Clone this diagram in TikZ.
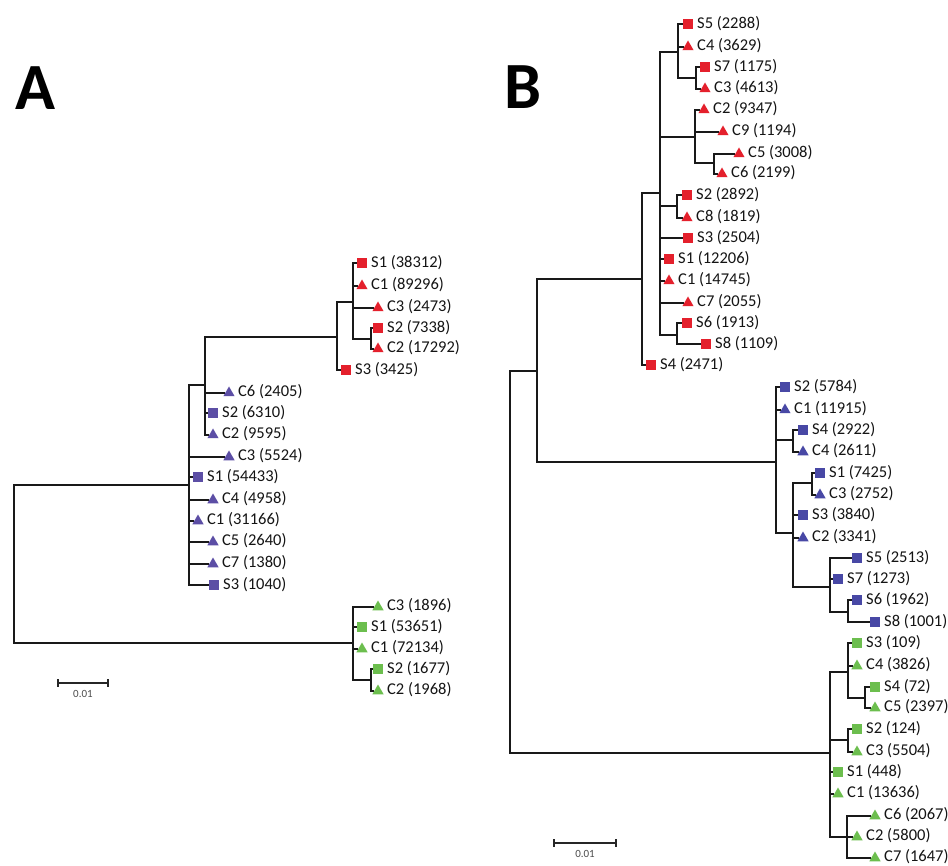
\documentclass[tikz,border=0pt]{standalone}
\usepackage{fontspec}
\setmainfont{Carlito}
\usetikzlibrary{shapes.geometric}
\definecolor{tred}{RGB}{228,32,44}
\definecolor{tpur}{RGB}{92,78,165}
\definecolor{tblu}{RGB}{72,72,165}
\definecolor{tgrn}{RGB}{108,190,78}
\tikzset{
  br/.style={line width=2.2pt, draw=black!90},
  sq/.style={rectangle, minimum size=9.5pt, inner sep=0pt, draw=none},
  tri/.style={regular polygon, regular polygon sides=3, minimum size=13pt, inner sep=0pt, draw=none, yshift=-1pt},
  lab/.style={anchor=west, inner sep=0pt, font=\fontsize{16.5}{16.5}\selectfont, text=black!92},
  panel/.style={inner sep=0pt, font=\fontsize{66}{66}\selectfont\bfseries},
  scl/.style={line width=1.4pt, draw=black!85},
  scltext/.style={inner sep=0pt, font=\fontsize{11}{11}\selectfont, text=black!70},
}
\newcommand\lf[6]{\node[#4,fill=#5] (#1) at (#2,#3) {};\node[lab] (#1t) at ({#2+9},#3) {#6};}
\begin{document}
\begin{tikzpicture}[x=1pt,y=-1pt]
\useasboundingbox[fill=white] (0,0) rectangle (948,866);
% panel letters
\node[panel] (LA) at (35,88) {A};
\node[panel] (LB) at (523,87) {B};

% ---------------- Panel A ----------------
\coordinate (Ar) at (14,564);
\coordinate (Ap) at (189,485);
\coordinate (Ag) at (353,643);
\coordinate (Aps) at (205,385);
\coordinate (Ar1) at (337,337);
\coordinate (Ar2) at (353,302);
\coordinate (Ar3) at (371,339);
\coordinate (Ag2) at (371,680);

\lf{aRS1}{362}{263}{sq}{tred}{S1 (38312)}
\lf{aRC1}{362}{285}{tri}{tred}{C1 (89296)}
\lf{aRC3}{378}{307}{tri}{tred}{C3 (2473)}
\lf{aRS2}{378}{328}{sq}{tred}{S2 (7338)}
\lf{aRC2}{378}{348}{tri}{tred}{C2 (17292)}
\lf{aRS3}{346}{370}{sq}{tred}{S3 (3425)}

\lf{aPC6}{229}{392}{tri}{tpur}{C6 (2405)}
\lf{aPS2}{213}{413}{sq}{tpur}{S2 (6310)}
\lf{aPC2}{213}{434}{tri}{tpur}{C2 (9595)}
\lf{aPC3}{229}{456}{tri}{tpur}{C3 (5524)}
\lf{aPS1}{198}{477}{sq}{tpur}{S1 (54433)}
\lf{aPC4}{213}{499}{tri}{tpur}{C4 (4958)}
\lf{aPC1}{198}{520}{tri}{tpur}{C1 (31166)}
\lf{aPC5}{213}{541}{tri}{tpur}{C5 (2640)}
\lf{aPC7}{213}{563}{tri}{tpur}{C7 (1380)}
\lf{aPS3}{214}{585}{sq}{tpur}{S3 (1040)}

\lf{aGC3}{378}{606}{tri}{tgrn}{C3 (1896)}
\lf{aGS1}{362}{627}{sq}{tgrn}{S1 (53651)}
\lf{aGC1}{362}{648}{tri}{tgrn}{C1 (72134)}
\lf{aGS2}{378}{669}{sq}{tgrn}{S2 (1677)}
\lf{aGC2}{378}{690}{tri}{tgrn}{C2 (1968)}

\foreach \p/\c in {Ar/Ap, Ar/Ag,
  Ap/Aps, Ap/aPC3, Ap/aPS1, Ap/aPC4, Ap/aPC1, Ap/aPC5, Ap/aPC7, Ap/aPS3,
  Aps/Ar1, Aps/aPC6, Aps/aPS2, Aps/aPC2,
  Ar1/Ar2, Ar1/aRS3,
  Ar2/aRS1, Ar2/aRC1, Ar2/aRC3, Ar2/Ar3,
  Ar3/aRS2, Ar3/aRC2,
  Ag/aGC3, Ag/aGS1, Ag/aGC1, Ag/Ag2,
  Ag2/aGS2, Ag2/aGC2}
  \draw[br] (\p) |- (\c);

% scale bar A
\coordinate (sa1) at (58,683);
\coordinate (sa2) at (108,683);
\draw[scl] (sa1) -- (sa2);
\draw[scl] ([yshift=4pt]sa1) -- ([yshift=-4pt]sa1);
\draw[scl] ([yshift=4pt]sa2) -- ([yshift=-4pt]sa2);
\node[scltext] (sat) at (83,694) {0.01};

% ---------------- Panel B ----------------
\coordinate (Br) at (510,562);
\coordinate (Bu) at (537,371);
\coordinate (Bgn) at (830,753);
\coordinate (Bred) at (642,279);
\coordinate (Bblue) at (776,462);
\coordinate (R1) at (660,193);
\coordinate (R2) at (678,52);
\coordinate (R2a) at (696,78);
\coordinate (R3) at (695,137);
\coordinate (R3a) at (714,163);
\coordinate (R4) at (677,206);
\coordinate (R5) at (677,335);
\coordinate (B1) at (793,440);
\coordinate (B2) at (793,533);
\coordinate (B3) at (812,483);
\coordinate (B4) at (830,587);
\coordinate (B5) at (848,612);
\coordinate (G1) at (848,672);
\coordinate (G1a) at (865,698);
\coordinate (G2) at (848,740);
\coordinate (G3) at (847,837);

\lf{bRS5}{688}{24}{sq}{tred}{S5 (2288)}
\lf{bRC4}{688}{46}{tri}{tred}{C4 (3629)}
\lf{bRS7}{705}{67}{sq}{tred}{S7 (1175)}
\lf{bRC3}{705}{88}{tri}{tred}{C3 (4613)}
\lf{bRC2}{704}{109}{tri}{tred}{C2 (9347)}
\lf{bRC9}{723}{131}{tri}{tred}{C9 (1194)}
\lf{bRC5}{739}{153}{tri}{tred}{C5 (3008)}
\lf{bRC6}{722}{173}{tri}{tred}{C6 (2199)}
\lf{bRS2}{687}{195}{sq}{tred}{S2 (2892)}
\lf{bRC8}{687}{217}{tri}{tred}{C8 (1819)}
\lf{bRS3}{688}{238}{sq}{tred}{S3 (2504)}
\lf{bRS1}{669}{259}{sq}{tred}{S1 (12206)}
\lf{bRC1}{669}{280}{tri}{tred}{C1 (14745)}
\lf{bRC7}{688}{302}{tri}{tred}{C7 (2055)}
\lf{bRS6}{687}{323}{sq}{tred}{S6 (1913)}
\lf{bRS8}{706}{344}{sq}{tred}{S8 (1109)}
\lf{bRS4}{651}{365}{sq}{tred}{S4 (2471)}

\lf{bBS2}{785}{387}{sq}{tblu}{S2 (5784)}
\lf{bBC1}{785}{409}{tri}{tblu}{C1 (11915)}
\lf{bBS4}{803}{430}{sq}{tblu}{S4 (2922)}
\lf{bBC4}{803}{451}{tri}{tblu}{C4 (2611)}
\lf{bBS1}{820}{473}{sq}{tblu}{S1 (7425)}
\lf{bBC3}{820}{494}{tri}{tblu}{C3 (2752)}
\lf{bBS3}{803}{515}{sq}{tblu}{S3 (3840)}
\lf{bBC2}{803}{537}{tri}{tblu}{C2 (3341)}
\lf{bBS5}{857}{558}{sq}{tblu}{S5 (2513)}
\lf{bBS7}{838}{579}{sq}{tblu}{S7 (1273)}
\lf{bBS6}{857}{600}{sq}{tblu}{S6 (1962)}
\lf{bBS8}{875}{622}{sq}{tblu}{S8 (1001)}

\lf{bGS3}{857}{643}{sq}{tgrn}{S3 (109)}
\lf{bGC4}{857}{665}{tri}{tgrn}{C4 (3826)}
\lf{bGS4}{875}{687}{sq}{tgrn}{S4 (72)}
\lf{bGC5}{875}{707}{tri}{tgrn}{C5 (2397)}
\lf{bGS2}{857}{729}{sq}{tgrn}{S2 (124)}
\lf{bGC3}{857}{751}{tri}{tgrn}{C3 (5504)}
\lf{bGS1}{838}{772}{sq}{tgrn}{S1 (448)}
\lf{bGC1}{838}{793}{tri}{tgrn}{C1 (13636)}
\lf{bGC6}{875}{815}{tri}{tgrn}{C6 (2067)}
\lf{bGC2}{857}{836}{tri}{tgrn}{C2 (5800)}
\lf{bGC7}{875}{857}{tri}{tgrn}{C7 (1647)}

\foreach \p/\c in {Br/Bu, Br/Bgn, Bu/Bred, Bu/Bblue,
  Bred/R1, Bred/bRS4,
  R1/R2, R1/R3, R1/R4, R1/bRS3, R1/bRS1, R1/bRC1, R1/bRC7, R1/R5,
  R2/bRS5, R2/bRC4, R2/R2a, R2a/bRS7, R2a/bRC3,
  R3/bRC2, R3/bRC9, R3/R3a, R3a/bRC5, R3a/bRC6,
  R4/bRS2, R4/bRC8, R5/bRS6, R5/bRS8,
  Bblue/bBS2, Bblue/bBC1, Bblue/B1, Bblue/B2,
  B1/bBS4, B1/bBC4,
  B2/B3, B2/bBS3, B2/bBC2, B2/B4,
  B3/bBS1, B3/bBC3,
  B4/bBS5, B4/bBS7, B4/B5, B5/bBS6, B5/bBS8,
  Bgn/G1, Bgn/G2, Bgn/bGS1, Bgn/bGC1, Bgn/G3,
  G1/bGS3, G1/bGC4, G1/G1a, G1a/bGS4, G1a/bGC5,
  G2/bGS2, G2/bGC3,
  G3/bGC6, G3/bGC2, G3/bGC7}
  \draw[br] (\p) |- (\c);

% scale bar B
\coordinate (sb1) at (554,843);
\coordinate (sb2) at (616,843);
\draw[scl] (sb1) -- (sb2);
\draw[scl] ([yshift=4pt]sb1) -- ([yshift=-4pt]sb1);
\draw[scl] ([yshift=4pt]sb2) -- ([yshift=-4pt]sb2);
\node[scltext] (sbt) at (585,854) {0.01};
\end{tikzpicture}
\end{document}
